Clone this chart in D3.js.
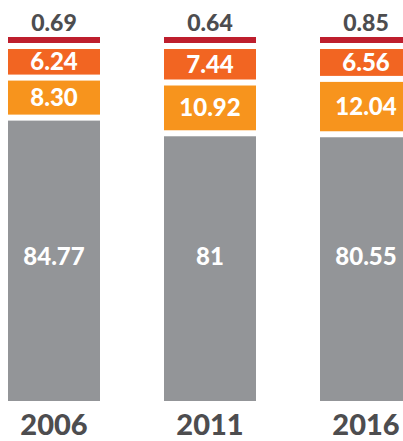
<!DOCTYPE html>
<html lang="en">
<head>
    <meta charset="UTF-8">
    <title>Stacked shares</title>
    <script src="https://d3js.org/d3.v7.min.js"></script>
    <style>
        body {
            margin: 0;
            background: #fff;
            font-family: Lato, "Open Sans", Arial, sans-serif;
        }
        text {
            font-weight: 900;
        }
    </style>
</head>
<body>
<div id="chart"></div>

<script>
    // Data
    const years = ["2006", "2011", "2016"];
    const grayValues = [84.77, 81, 80.55];
    const orangeValues = [8.30, 10.92, 12.04];
    const darkOrangeValues = [6.24, 7.44, 6.56];
    const redValues = [0.69, 0.64, 0.85];
    const labelText = {
        gray: ["84.77", "81", "80.55"],
        orange: ["8.30", "10.92", "12.04"],
        darkOrange: ["6.24", "7.44", "6.56"],
        red: ["0.69", "0.64", "0.85"]
    };

    const width = 403;
    const height = 441;
    const barTop = 37;
    const baseline = 401;
    const gap = 6;
    const minHeight = 6;

    const svg = d3.select("#chart").append("svg")
        .attr("width", width)
        .attr("height", height);

    const x = d3.scaleBand()
        .domain(years)
        .range([8, 412])
        .paddingInner(64 / 156)
        .paddingOuter(0);

    // small segments are stacked from the top, gray fills down to the baseline
    const h = d3.scaleLinear()
        .domain([0, 10])
        .range([0, 41]);

    const colors = {
        gray: "#939598",
        orange: "#f7941d",
        darkOrange: "#f26522",
        red: "#be1e2d"
    };

    years.forEach((year, i) => {
        const x0 = x(year);
        const bw = x.bandwidth();
        const cx = x0 + bw / 2;
        const g = svg.append("g");

        let y = barTop;
        const topSegments = [
            {key: "red", value: redValues[i]},
            {key: "darkOrange", value: darkOrangeValues[i]},
            {key: "orange", value: orangeValues[i]}
        ];

        topSegments.forEach(seg => {
            const sh = Math.max(minHeight, h(seg.value));
            g.append("rect")
                .attr("x", x0)
                .attr("y", y)
                .attr("width", bw)
                .attr("height", sh)
                .attr("fill", colors[seg.key]);

            if (seg.key === "red") {
                g.append("text")
                    .attr("x", cx)
                    .attr("y", y - 6)
                    .attr("text-anchor", "middle")
                    .attr("fill", "#4d4d4f")
                    .style("font-size", "23px")
                    .text(labelText.red[i]);
            } else {
                g.append("text")
                    .attr("x", cx)
                    .attr("y", y + sh / 2 + 8.5)
                    .attr("text-anchor", "middle")
                    .attr("fill", "#fff")
                    .style("font-size", "24px")
                    .text(labelText[seg.key][i]);
            }
            y += sh + gap;
        });

        // gray block
        g.append("rect")
            .attr("x", x0)
            .attr("y", y)
            .attr("width", bw)
            .attr("height", baseline - y)
            .attr("fill", colors.gray);

        g.append("text")
            .attr("x", cx)
            .attr("y", 264.5)
            .attr("text-anchor", "middle")
            .attr("fill", "#fff")
            .style("font-size", "24px")
            .text(labelText.gray[i]);

        // year label
        g.append("text")
            .attr("x", cx)
            .attr("y", 435)
            .attr("text-anchor", "middle")
            .attr("fill", "#4d4d4f")
            .style("font-size", "29px")
            .text(year);
    });
</script>
</body>
</html>
